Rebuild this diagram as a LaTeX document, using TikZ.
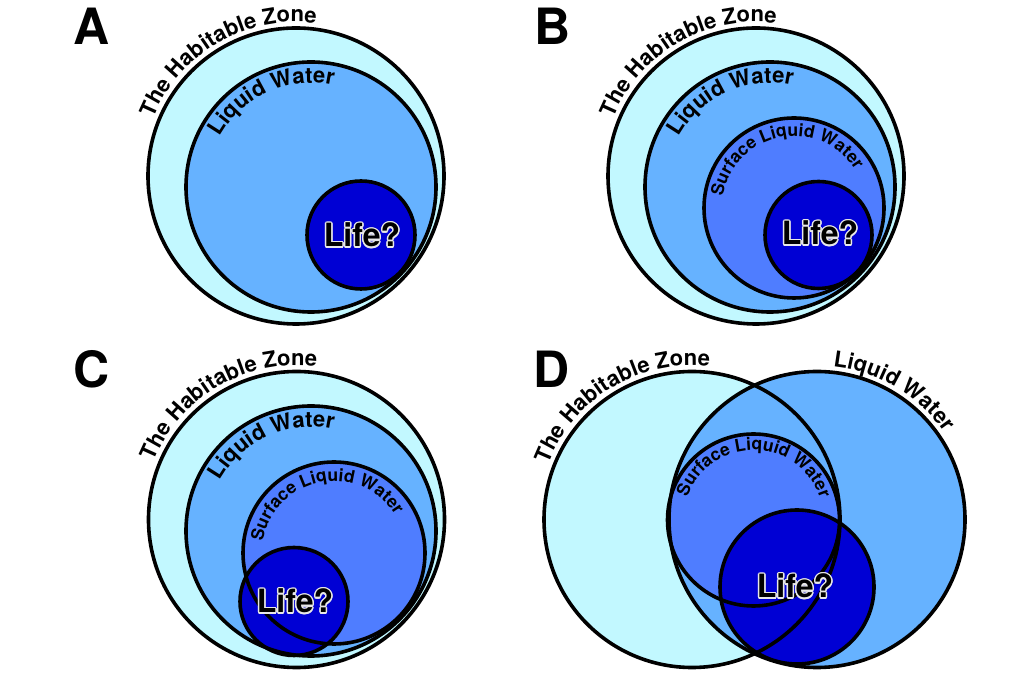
\documentclass[tikz,border=0pt]{standalone}
\usepackage{fontspec}
\setmainfont{TeX Gyre Heros}
\usetikzlibrary{decorations.text}
\definecolor{hz}{HTML}{C2F8FF}
\definecolor{lw}{HTML}{66B2FF}
\definecolor{sw}{HTML}{4F7DFF}
\definecolor{lf}{HTML}{0000D4}
\definecolor{halo}{HTML}{E8E8E8}
\newcommand\arclabel[6]{\path[decorate,decoration={text along path,text align=left,text={|\fontsize{#5}{#5}\selectfont\bfseries|#6}}] (#1) ++(#3:#2) arc[start angle=#3,end angle=#4,radius=#2];}
\newcommand\lifelabel[2]{%
  \foreach \a in {0,30,...,330}{\node[lifehalo,shift={(\a:1.5pt)}] (#1h\a) at (#2) {Life?};}
  \node[lifetext] (#1) at (#2) {Life?};}
\tikzset{
  ring/.style={line width=3.6pt,draw=black},
  panel/.style={inner sep=0pt,font=\fontsize{50}{50}\selectfont\bfseries},
  lifetext/.style={inner sep=0pt,text=black,font=\fontsize{32}{32}\selectfont\bfseries},
  lifehalo/.style={inner sep=0pt,text=halo,font=\fontsize{32}{32}\selectfont\bfseries},
}
\begin{document}
\begin{tikzpicture}[x=1pt,y=1pt]
\useasboundingbox (0,0) rectangle (1024,676);
% centres
\coordinate (Ahz) at (296,500);  \coordinate (Alw) at (311,489);  \coordinate (Alf) at (361,441);
\coordinate (Bhz) at (756,500);  \coordinate (Blw) at (770,489);  \coordinate (Bsw) at (794,468); \coordinate (Blf) at (818.5,441);
\coordinate (Chz) at (296.5,156.5); \coordinate (Clw) at (311,145); \coordinate (Csw) at (334,123); \coordinate (Clf) at (294,74.5);
\coordinate (Dhz) at (692,156.5); \coordinate (Dlw) at (817,156.5); \coordinate (Dsw) at (753.5,156); \coordinate (Dlf) at (797,89);
% fills
\fill[hz] (Ahz) circle[radius=148pt];
\fill[lw] (Alw) circle[radius=125pt];
\fill[lf] (Alf) circle[radius=54pt];
\fill[hz] (Bhz) circle[radius=148pt];
\fill[lw] (Blw) circle[radius=125pt];
\fill[sw] (Bsw) circle[radius=90pt];
\fill[lf] (Blf) circle[radius=53.5pt];
\fill[hz] (Chz) circle[radius=148pt];
\fill[lw] (Clw) circle[radius=125pt];
\fill[sw] (Csw) circle[radius=91pt];
\fill[lf] (Clf) circle[radius=54pt];
\fill[hz] (Dhz) circle[radius=148pt];
\fill[lw] (Dlw) circle[radius=148pt];
\fill[sw] (Dsw) circle[radius=86pt];
\fill[lf] (Dlf) circle[radius=77pt];
% outlines
\draw[ring] (Ahz) circle[radius=148pt];
\draw[ring] (Alw) circle[radius=125pt];
\draw[ring] (Alf) circle[radius=54pt];
\draw[ring] (Bhz) circle[radius=148pt];
\draw[ring] (Blw) circle[radius=125pt];
\draw[ring] (Bsw) circle[radius=90pt];
\draw[ring] (Blf) circle[radius=53.5pt];
\draw[ring] (Chz) circle[radius=148pt];
\draw[ring] (Clw) circle[radius=125pt];
\draw[ring] (Csw) circle[radius=91pt];
\draw[ring] (Clf) circle[radius=54pt];
\draw[ring] (Dhz) circle[radius=148pt];
\draw[ring] (Dlw) circle[radius=148pt];
\draw[ring] (Dsw) circle[radius=86pt];
\draw[ring] (Dlf) circle[radius=77pt];
% arc labels
\arclabel{Ahz}{154pt}{158}{20}{22}{The Habitable Zone}
\arclabel{Alw}{104pt}{151}{0}{22}{Liquid Water}
\arclabel{Bhz}{154pt}{158}{20}{22}{The Habitable Zone}
\arclabel{Blw}{104pt}{151}{0}{22}{Liquid Water}
\arclabel{Bsw}{72pt}{171}{-20}{17.5}{Surface Liquid Water}
\arclabel{Chz}{154pt}{158}{20}{22}{The Habitable Zone}
\arclabel{Clw}{104pt}{151}{0}{22}{Liquid Water}
\arclabel{Csw}{72pt}{171}{-20}{17.5}{Surface Liquid Water}
\arclabel{Dhz}{154pt}{159}{20}{22}{The Habitable Zone}
\arclabel{Dlw}{154pt}{84}{-20}{22}{Liquid Water}
\arclabel{Dsw}{70pt}{161}{-40}{17.5}{Surface Liquid Water}
% life labels
\lifelabel{lifeA}{362,441}
\lifelabel{lifeB}{820,443}
\lifelabel{lifeC}{295,75}
\lifelabel{lifeD}{795,90}
% panel letters
\node[panel] (labA) at (92,650) {A};
\node[panel] (labB) at (553,650) {B};
\node[panel] (labC) at (92,307) {C};
\node[panel] (labD) at (552,307) {D};
\end{tikzpicture}
\end{document}
